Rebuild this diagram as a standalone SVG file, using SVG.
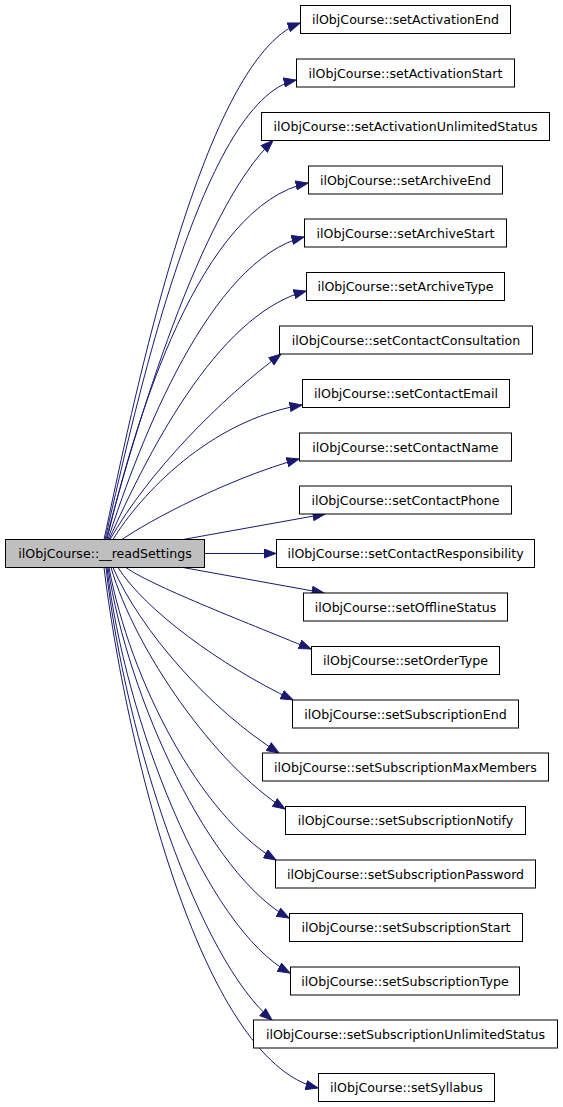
<svg xmlns="http://www.w3.org/2000/svg" width="563" height="1107" viewBox="0 0 563 1107">
<style>
.n rect{fill:#ffffff;stroke:#000000;stroke-width:1}
.m rect{fill:#bfbfbf;stroke:#000000;stroke-width:1}
text{font-family:"DejaVu Sans","Liberation Sans",sans-serif;font-size:12.6px;fill:#000000;text-anchor:middle}
.e path{fill:none;stroke:#191970;stroke-width:1;marker-end:url(#ah)}
</style>
<defs>
<marker id="ah" markerUnits="userSpaceOnUse" markerWidth="13" markerHeight="10" viewBox="0 0 13 10" refX="12.5" refY="5" orient="auto">
<path d="M0.5,0.5 L12.5,5 L0.5,9.5 z" fill="#191970" stroke="#191970" stroke-width="1"/>
</marker>
</defs>
<rect width="563" height="1107" fill="#ffffff"/>
<g id="edges" class="e">
<path d="M104,539.5 C130,420 200,60 300,23"/>
<path d="M105,539.5 C133,420 200,100 296,80"/>
<path d="M106,539.5 C135,430 200,210 273,140.5"/>
<path d="M107,539.5 C135,420 200,205 308,183"/>
<path d="M108,539.5 C140,440 210,260 304,237"/>
<path d="M109,539.5 C145,460 215,315 306,291"/>
<path d="M110,539.5 C150,470 220,400 281,354"/>
<path d="M113,539.5 C140,495 210,420 302,405"/>
<path d="M122,539.5 C150,520 230,478 299,459"/>
<path d="M183,539.5 L325,514"/>
<path d="M204,553.5 L276,553.5"/>
<path d="M183,567.5 L324,593"/>
<path d="M126,567.5 C150,585 240,620 311,649"/>
<path d="M118,567.5 C145,610 220,665 293,700"/>
<path d="M113,567.5 C140,630 210,710 279,753"/>
<path d="M111,567.5 C135,650 215,765 285,809"/>
<path d="M109,567.5 C130,680 200,815 276,860"/>
<path d="M108,567.5 C128,700 210,875 289,918"/>
<path d="M107,567.5 C125,720 205,927 290,973"/>
<path d="M106,567.5 C125,740 200,960 272,1020"/>
<path d="M104,567.5 C125,740 200,1060 318,1088"/>
</g>
<g id="readSettings" class="m"><rect x="5.5" y="539.5" width="199" height="28"/><text x="105" y="558">ilObjCourse::__readSettings</text></g>
<g id="setActivationEnd" class="n"><rect x="300.5" y="5.5" width="210" height="28"/><text x="405.5" y="24">ilObjCourse::setActivationEnd</text></g>
<g id="setActivationStart" class="n"><rect x="296.5" y="59" width="218" height="28"/><text x="405.5" y="77.5">ilObjCourse::setActivationStart</text></g>
<g id="setActivationUnlimitedStatus" class="n"><rect x="261.5" y="112.5" width="288" height="28"/><text x="405.5" y="131">ilObjCourse::setActivationUnlimitedStatus</text></g>
<g id="setArchiveEnd" class="n"><rect x="308.5" y="166" width="194" height="28"/><text x="405.5" y="184.5">ilObjCourse::setArchiveEnd</text></g>
<g id="setArchiveStart" class="n"><rect x="304.5" y="219" width="202" height="28"/><text x="405.5" y="237.5">ilObjCourse::setArchiveStart</text></g>
<g id="setArchiveType" class="n"><rect x="306.5" y="272.5" width="198" height="28"/><text x="405.5" y="291">ilObjCourse::setArchiveType</text></g>
<g id="setContactConsultation" class="n"><rect x="279.5" y="326" width="253" height="28"/><text x="406" y="344.5">ilObjCourse::setContactConsultation</text></g>
<g id="setContactEmail" class="n"><rect x="302.5" y="379.5" width="207" height="28"/><text x="406" y="398">ilObjCourse::setContactEmail</text></g>
<g id="setContactName" class="n"><rect x="299.5" y="433" width="212" height="28"/><text x="405.5" y="451.5">ilObjCourse::setContactName</text></g>
<g id="setContactPhone" class="n"><rect x="299.5" y="486" width="212" height="28"/><text x="405.5" y="504.5">ilObjCourse::setContactPhone</text></g>
<g id="setContactResponsibility" class="n"><rect x="276.5" y="539.5" width="258" height="28"/><text x="405.5" y="558">ilObjCourse::setContactResponsibility</text></g>
<g id="setOfflineStatus" class="n"><rect x="303.5" y="593" width="204" height="28"/><text x="405.5" y="611.5">ilObjCourse::setOfflineStatus</text></g>
<g id="setOrderType" class="n"><rect x="311.5" y="646.5" width="188" height="28"/><text x="405.5" y="665">ilObjCourse::setOrderType</text></g>
<g id="setSubscriptionEnd" class="n"><rect x="292.5" y="700" width="226" height="28"/><text x="405.5" y="718.5">ilObjCourse::setSubscriptionEnd</text></g>
<g id="setSubscriptionMaxMembers" class="n"><rect x="262.5" y="753" width="286" height="28"/><text x="405.5" y="771.5">ilObjCourse::setSubscriptionMaxMembers</text></g>
<g id="setSubscriptionNotify" class="n"><rect x="285.5" y="806.5" width="240" height="28"/><text x="405.5" y="825">ilObjCourse::setSubscriptionNotify</text></g>
<g id="setSubscriptionPassword" class="n"><rect x="275.5" y="860" width="260" height="28"/><text x="405.5" y="878.5">ilObjCourse::setSubscriptionPassword</text></g>
<g id="setSubscriptionStart" class="n"><rect x="289.5" y="913.5" width="233" height="28"/><text x="406" y="932">ilObjCourse::setSubscriptionStart</text></g>
<g id="setSubscriptionType" class="n"><rect x="290.5" y="967" width="229" height="28"/><text x="405" y="985.5">ilObjCourse::setSubscriptionType</text></g>
<g id="setSubscriptionUnlimitedStatus" class="n"><rect x="253.5" y="1020" width="304" height="28"/><text x="405.5" y="1038.5">ilObjCourse::setSubscriptionUnlimitedStatus</text></g>
<g id="setSyllabus" class="n"><rect x="318.5" y="1073.5" width="176" height="28"/><text x="406.5" y="1092">ilObjCourse::setSyllabus</text></g>
</svg>
